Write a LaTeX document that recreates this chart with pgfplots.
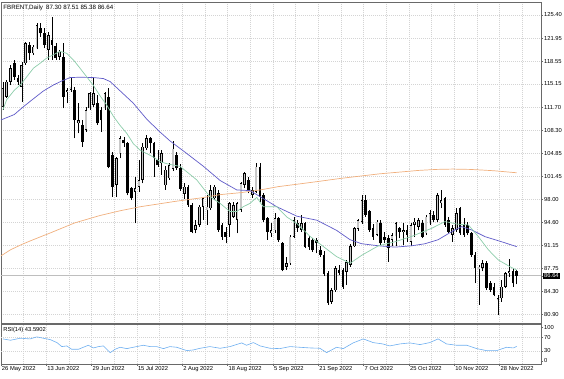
\documentclass[border=0pt]{standalone}
\usepackage{pgfplots}
\usepackage{pgfplotstable}
\pgfplotsset{compat=1.18}
\usepackage{fontspec}
\setmainfont{Liberation Sans}
\definecolor{grd}{RGB}{212,212,212}
\definecolor{frm}{RGB}{105,105,105}
\definecolor{bullfill}{RGB}{200,200,200}
\definecolor{magreen}{RGB}{140,205,170}
\definecolor{mablue}{RGB}{95,90,200}
\definecolor{maorange}{RGB}{240,175,125}
\definecolor{rsiblue}{RGB}{110,175,240}
\definecolor{pline}{RGB}{190,190,190}
\newcommand{\lf}{\fontsize{5.8}{6.5}\selectfont}
\newcommand{\tf}{\fontsize{6.2}{7}\selectfont}

\pgfplotstableread{
i O H L C
0 111.77 115.49 111.28 114.50
1 113.26 115.74 113.01 115.49
2 115.49 117.97 114.99 117.47
5 114.75 118.46 112.52 117.97
6 118.21 121.43 117.97 121.19
8 119.70 120.94 119.45 120.69
9 120.44 124.26 120.29 123.91
12 120.20 122.90 118.71 122.40
15 119.20 120.20 118.71 119.95
17 114.00 114.50 112.27 114.25
18 114.25 116.23 114.00 114.75
20 109.30 112.27 107.81 109.79
22 108.31 111.77 108.06 111.28
23 111.53 114.00 111.28 113.75
24 112.02 116.23 111.77 113.75
27 111.53 114.00 111.28 113.75
30 100.13 104.34 98.40 104.09
31 104.84 107.41 104.09 107.07
35 99.14 101.37 94.43 99.64
36 99.88 103.85 99.14 100.87
37 100.87 106.32 100.38 105.83
38 105.58 107.56 105.33 107.07
42 103.35 105.33 101.62 104.84
43 100.10 102.90 99.40 102.40
44 101.10 103.40 100.90 103.10
45 102.50 106.60 102.20 105.50
48 98.80 100.40 98.00 99.90
51 93.45 94.90 92.95 94.20
52 94.20 97.20 93.90 96.90
53 96.90 98.40 94.90 98.15
54 96.40 98.65 94.20 96.90
55 96.67 100.13 96.42 99.39
56 98.15 100.13 97.90 99.89
60 94.19 97.60 92.46 97.41
61 95.43 97.60 95.20 97.16
62 94.93 97.66 92.95 97.41
63 96.42 100.63 96.17 100.38
64 100.13 102.12 99.64 101.87
66 98.65 99.90 98.20 99.39
67 99.14 103.35 98.90 102.86
71 92.95 94.44 92.46 93.45
72 93.40 95.90 93.00 95.20
75 88.00 89.50 87.50 88.50
76 88.50 92.70 88.24 92.46
77 92.46 95.43 92.20 94.93
79 93.45 95.70 93.20 94.44
87 82.80 84.80 82.50 84.50
88 84.50 88.10 84.30 87.80
91 87.25 89.00 85.30 88.70
92 88.30 91.30 88.00 91.00
93 91.00 93.90 90.90 93.70
94 93.60 95.10 93.30 94.90
95 94.70 98.65 94.40 97.90
99 92.70 94.90 92.50 94.70
103 92.00 92.96 91.00 92.70
104 92.50 94.70 91.00 94.44
106 93.20 94.44 91.20 93.45
108 91.70 94.44 91.00 94.20
109 94.20 95.20 92.46 94.70
110 93.95 95.20 93.40 94.94
112 92.96 95.70 92.70 95.43
113 94.44 96.43 94.20 95.93
115 94.94 98.90 94.70 98.65
116 97.40 99.40 96.70 97.90
119 92.70 94.20 91.72 93.70
120 93.45 96.70 93.20 95.93
126 87.60 88.25 82.30 88.00
127 87.80 89.00 87.30 88.50
131 83.00 83.80 80.80 83.30
132 83.30 86.00 82.80 85.00
133 85.00 87.20 84.80 87.00
134 87.00 89.20 86.50 87.30
}\bulls

\pgfplotstableread{
i O H L C
3 118.21 118.71 115.74 116.23
4 115.98 116.48 114.99 115.49
7 120.90 121.40 118.70 119.70
10 123.42 124.16 122.18 122.67
11 122.67 123.42 120.44 120.94
13 121.68 125.05 118.71 120.94
14 120.79 121.19 118.71 118.96
16 119.20 121.19 111.53 113.26
19 114.25 114.75 107.07 109.79
21 109.05 109.79 105.83 106.57
25 112.27 113.51 109.05 109.30
26 111.28 111.77 108.06 109.79
28 113.26 114.50 102.61 102.86
29 104.60 105.00 98.40 99.88
32 106.82 107.31 105.83 106.32
33 106.32 106.57 98.60 98.89
34 99.64 99.88 97.90 98.15
39 107.07 107.31 104.84 106.32
40 106.32 106.57 101.37 104.09
41 103.85 105.33 102.86 103.10
46 104.60 105.00 102.40 102.70
47 102.70 103.20 99.30 99.60
49 99.90 100.20 96.90 97.20
50 97.20 97.40 92.95 93.20
57 98.90 99.40 93.20 93.45
58 94.19 94.44 91.96 92.46
59 93.20 93.94 91.46 92.46
65 100.88 101.37 98.90 99.39
68 102.86 103.45 97.66 98.40
69 98.65 98.90 94.68 94.93
70 95.18 95.43 91.96 93.20
73 95.20 95.40 91.70 91.90
74 91.46 91.70 87.30 87.50
78 94.44 94.90 93.20 93.69
80 94.44 94.68 90.72 90.97
81 92.20 92.50 90.50 90.97
82 91.96 92.20 90.20 90.47
83 91.96 92.20 89.98 91.46
84 90.50 91.00 89.50 89.80
85 89.80 90.30 86.60 86.90
86 87.00 87.30 82.30 82.60
89 87.50 88.30 86.80 87.05
90 87.50 87.80 84.70 85.00
96 97.90 98.65 95.40 95.70
97 96.20 96.40 93.20 93.45
98 93.70 94.40 91.97 92.46
100 94.44 94.90 91.20 91.47
101 92.46 93.20 91.47 91.97
102 92.20 92.70 88.75 90.70
105 93.70 93.95 92.20 93.20
107 93.45 94.20 91.70 92.70
111 94.44 94.94 92.20 92.46
114 95.70 96.20 94.70 94.94
117 98.20 98.40 93.95 94.20
118 94.94 95.43 92.96 93.20
121 96.70 96.90 92.70 92.96
122 94.20 95.20 92.46 92.71
123 94.20 94.70 92.70 92.96
124 92.96 93.20 89.50 89.74
125 89.74 90.20 85.50 87.76
128 88.50 88.80 84.50 84.78
129 85.50 85.80 84.30 84.54
130 85.00 85.50 83.60 83.80
135 87.30 87.75 85.00 85.50
136 87.30 87.51 85.38 86.64
}\bears

\begin{document}
\begin{tikzpicture}
\path[use as bounding box] (0,0) rectangle (564pt,378pt);
\begin{axis}[at={(1pt,54.5pt)}, anchor=south west, scale only axis,
  width=540pt, height=321.5pt,
  xmin=-0.5, xmax=142.43, ymin=79.55, ymax=127.33,
  axis line style={draw=frm, line width=0.9pt},
  xtick={5.5,11.5,...,137.5}, xticklabels={}, xtick style={draw=none},
  xmajorgrids, ymajorgrids,
  grid style={grd, dash pattern=on 1pt off 1pt, line width=0.5pt},
  ytick={80.90,84.30,87.75,91.15,94.60,98.00,101.45,104.85,108.30,111.70,115.15,118.55,121.95,125.40},
  yticklabels={80.90,84.30,87.75,91.15,94.60,98.00,101.45,104.85,108.30,111.70,115.15,118.55,121.95,125.40},
  ytick pos=right, yticklabel pos=right,
  tick align=outside, major tick length=2pt,
  ytick style={draw=frm, line width=0.5pt},
  yticklabel style={font=\lf, inner sep=1pt},
  extra y ticks={86.64}, extra y tick labels={86.64},
  extra y tick style={grid=none, tick label style={fill=black, text=white, inner sep=0.8pt}},
  clip=true]
\addplot[pline, line width=0.7pt, forget plot] coordinates {(-1,86.64) (143,86.64)};
% wicks
\addplot[draw=none, mark=none, forget plot, error bars/.cd, y dir=plus, y explicit, error mark=none,
  error bar style={draw=black, line width=0.55pt}]
  table[x=i, y=L, y error expr=\thisrow{H}-\thisrow{L}] {\bulls};
\addplot[draw=none, mark=none, forget plot, error bars/.cd, y dir=plus, y explicit, error mark=none,
  error bar style={draw=black, line width=0.55pt}]
  table[x=i, y=L, y error expr=\thisrow{H}-\thisrow{L}] {\bears};
% bodies
\addplot[draw=none, mark=none, forget plot, error bars/.cd, y dir=plus, y explicit, error mark=none,
  error bar style={draw=black, line width=2.6pt}]
  table[x=i, y=O, y error expr=\thisrow{C}-\thisrow{O}] {\bulls};
\addplot[draw=none, mark=none, forget plot, error bars/.cd, y dir=plus, y explicit, error mark=none,
  error bar style={draw=bullfill, line width=1.2pt, shorten <=0.6pt, shorten >=0.6pt}]
  table[x=i, y=O, y error expr=\thisrow{C}-\thisrow{O}] {\bulls};
\addplot[draw=none, mark=none, forget plot, error bars/.cd, y dir=plus, y explicit, error mark=none,
  error bar style={draw=black, line width=2.6pt}]
  table[x=i, y=C, y error expr=\thisrow{O}-\thisrow{C}] {\bears};
% moving averages
\addplot[maorange, line width=0.7pt] coordinates {(-0.5,89.6) (2,90.5) (5,91.3) (8,92.0) (12.5,93.0) (19,94.5) (25.7,95.6) (31,96.3) (36.3,96.9) (41,97.3) (45.6,97.7) (52.2,98.2) (57.5,98.7) (63,99.0) (68.1,99.4) (73,99.9) (78.6,100.3) (84,100.7) (89.2,101.1) (94.5,101.45) (99.8,101.8) (106,102.1) (110,102.3) (114.8,102.45) (119,102.5) (123.6,102.45) (127,102.35) (130,102.25) (133,102.1) (136,101.95)};
\addplot[mablue, line width=0.7pt] coordinates {(-0.5,109.8) (3,110.6) (5.5,111.8) (8.2,113.0) (10.7,114.1) (13.4,115.0) (15.6,115.6) (17.8,116.1) (20.4,116.15) (24,116.1) (26.6,115.95) (28.4,115.5) (30.5,114.4) (34.5,112.3) (38.1,109.9) (41.6,108.0) (44.2,106.7) (48.7,104.8) (53.1,102.9) (57.5,100.8) (61.9,99.4) (65.4,99.3) (68.1,98.4) (72.5,96.9) (77.8,95.5) (83.1,94.9) (88.3,93.4) (91.9,92.0) (95,91.4) (99.4,91.1) (103.8,90.9) (108.2,91.1) (111.7,91.4) (115.2,92.0) (118.8,93.2) (121.4,93.95) (124.1,93.45) (127.6,92.46) (132,91.7) (136,90.97)};
\addplot[magreen, line width=0.7pt] coordinates {(0,111.3) (1,112.8) (3,114.2) (4.6,115.0) (6.3,116.2) (8.1,117.5) (9.8,118.2) (11.6,119.0) (13.4,119.5) (15.1,120.0) (16.9,119.7) (18.7,118.7) (20.4,117.5) (22.2,116.2) (24,114.9) (25.7,113.4) (27.5,112.0) (29.3,110.3) (31,109.0) (32.8,107.8) (34.5,106.3) (36.3,105.3) (38.1,104.8) (39.8,104.3) (41.6,103.6) (43.4,103.3) (45.1,103.1) (46.9,102.9) (51.3,100.9) (54.8,98.4) (57.5,97.4) (60.1,96.2) (61.9,96.2) (63.6,96.9) (65.4,97.4) (67.2,98.3) (68.9,96.9) (70.7,96.9) (72.5,96.9) (75.1,95.4) (77.8,94.4) (81.3,92.5) (84.8,91.0) (88.3,89.5) (91.9,88.5) (95,89.7) (99.4,91.1) (103.8,91.7) (108.2,92.5) (113.5,93.7) (117,94.7) (120.5,94.3) (123.2,94.2) (125.8,92.5) (128.5,90.5) (131.1,89.0) (134.2,88.0) (136,87.5)};
\node[anchor=north west, font=\tf, inner sep=0pt] at (rel axis cs:0.004,0.991) {FBRENT,Daily\enspace 87.30 87.51 85.38 86.64};
\end{axis}

\begin{axis}[at={(1pt,14pt)}, anchor=south west, scale only axis,
  width=540pt, height=39.5pt,
  xmin=-0.5, xmax=142.43, ymin=-9, ymax=109,
  axis line style={draw=frm, line width=0.9pt},
  xtick={-0.5,11.5,...,131.5},
  xticklabels={26 May 2022,13 Jun 2022,29 Jun 2022,15 Jul 2022,2 Aug 2022,18 Aug 2022,5 Sep 2022,21 Sep 2022,7 Oct 2022,25 Oct 2022,10 Nov 2022,28 Nov 2022},
  minor xtick={5.5,17.5,...,137.5},
  xmajorgrids, xminorgrids,
  grid style={grd, dash pattern=on 1pt off 1pt, line width=0.5pt},
  minor grid style={grd, dash pattern=on 1pt off 1pt, line width=0.5pt},
  xtick pos=bottom, tick align=outside, major tick length=2pt, minor tick length=0pt,
  xtick style={draw=frm, line width=0.5pt},
  xticklabel style={font=\lf, anchor=north west, inner sep=0.5pt, xshift=0.3pt},
  ytick={0,100}, yticklabels={0,100},
  ytick pos=right, yticklabel pos=right,
  ytick style={draw=frm, line width=0.5pt},
  yticklabel style={font=\lf, inner sep=1pt},
  extra y ticks={30,70}, extra y tick labels={30,70},
  extra y tick style={grid=major},
  clip=true]
\addplot[rsiblue, line width=0.6pt] coordinates {(0,66) (2,62) (4.6,68) (7.2,66) (9,72) (10.7,68) (12.5,64) (14.3,55) (15.6,43) (16.9,45) (18.2,35) (20,35) (21.3,41) (22.6,47) (24,39) (25.3,43) (26.6,45) (28.4,25) (29.7,35) (31,41) (32.8,37) (34.5,41) (37.2,47) (39,43) (40.7,43) (42.5,37) (44.2,43) (46,41) (48.7,31) (50.4,33) (52.2,38) (54.8,43) (57.5,38) (60.1,43) (63.2,54) (64.5,47) (66.3,55) (68.1,45) (70.7,38) (73.3,37) (76,43) (78.6,41) (81.3,39) (83.9,38) (85.7,25) (88.3,41) (90.1,37) (92.7,54) (95.4,66) (98,55) (100.5,51) (102.4,45) (105.1,51) (107.7,54) (110.4,49) (113,55) (115.2,66) (117.4,51) (120.1,47) (122.8,47) (125.4,37) (128,31) (130.7,31) (133.3,41) (135.1,39) (136,43.59)};
\node[anchor=north west, font=\lf, inner sep=0pt] at (rel axis cs:0.004,0.93) {RSI(14) 43.5902};
\end{axis}
\end{tikzpicture}
\end{document}
